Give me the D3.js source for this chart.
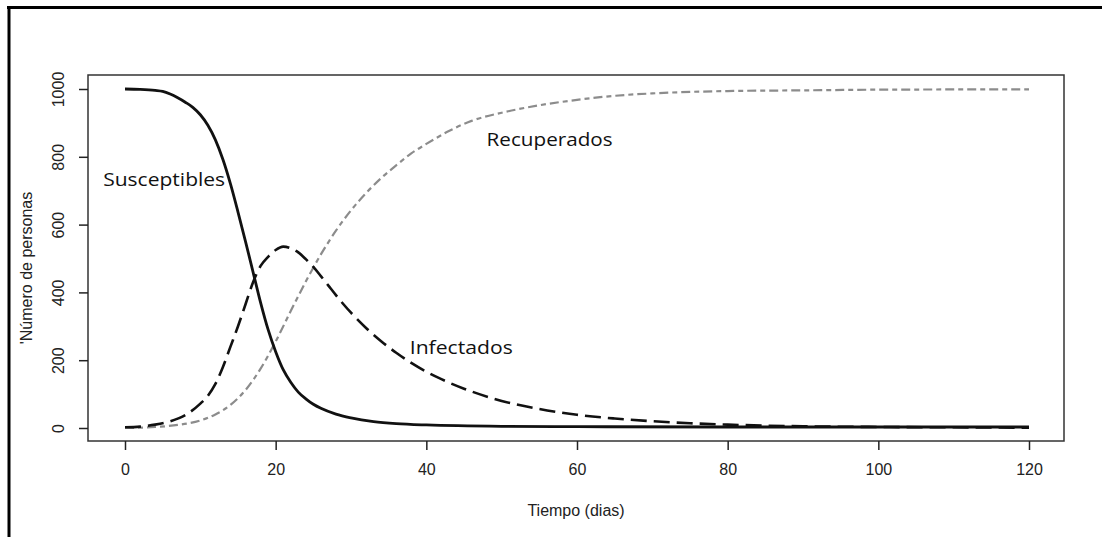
<!DOCTYPE html>
<html>
<head>
<meta charset="utf-8">
<script src="https://cdn.jsdelivr.net/npm/d3@7/dist/d3.min.js"></script>
<style>
  html, body { margin: 0; padding: 0; background: #fff; }
  svg { display: block; }
</style>
</head>
<body>
<svg id="chart" width="1102" height="537"></svg>
<script>
// ---- data ----
const susTimes   = [0, 2, 4, 5, 6, 7, 8, 9, 10, 11, 12, 13, 14, 15, 16, 17, 18, 19, 20, 21, 22, 23, 24, 25, 26, 28, 30, 33, 36, 40, 50, 60, 80, 120];
const susValues  = [1000, 999, 996, 993, 985, 974, 961, 946, 924, 893, 850, 792, 720, 637, 550, 460, 370, 290, 225, 172, 135, 106, 86, 70, 58, 41, 30, 19, 13, 9, 5, 4, 3, 3];

const infTimes   = [0, 2, 4, 6, 8, 10, 11, 12, 13, 14, 15, 16, 17, 18, 19, 20, 21, 22, 23, 24, 25, 26, 27, 28, 29, 30, 32, 34, 36, 38, 40, 42, 45, 50, 55, 60, 65, 70, 75, 80, 85, 90, 100, 110, 120];
const infValues  = [2, 4, 10, 20, 38, 72, 95, 130, 180, 240, 300, 365, 430, 478, 505, 525, 535, 530, 518, 498, 475, 448, 420, 392, 365, 340, 295, 256, 222, 192, 166, 144, 116, 80, 56, 39, 28, 20, 14, 10, 7, 5, 3, 2, 1];

const recTimes   = [0, 4, 7, 10, 12, 14, 16, 18, 20, 22, 24, 26, 28, 30, 32, 34, 36, 38, 40, 43, 46, 50, 55, 60, 65, 70, 80, 90, 100, 120];
const recValues  = [0, 3, 9, 22, 40, 68, 112, 175, 255, 345, 432, 512, 582, 642, 693, 737, 775, 810, 838, 876, 906, 930, 952, 968, 980, 987, 994, 996, 998, 999];

const xTicks = [0, 20, 40, 60, 80, 100, 120];
const yTicks = [0, 200, 400, 600, 800, 1000];

const labels = [
  { text: "Susceptibles", t: -2.9, v: 715, len: 122 },
  { text: "Recuperados",  t: 48.0, v: 833, len: 126 },
  { text: "Infectados",   t: 37.8, v: 219, len: 103 }
];

const xTitle = "Tiempo (dias)";
const yTitle = "'Número de personas";

// ---- layout ----
const svg = d3.select("#chart");
const box = { left: 88, right: 1064, top: 75, bottom: 441 };

const x = d3.scaleLinear().domain([0, 120]).range([125, 1029]);
const y = d3.scaleLinear().domain([0, 1000]).range([428, 89]);

// outer frame (top and left edges visible)
svg.append("line").attr("x1", 7).attr("x2", 1102).attr("y1", 7.5).attr("y2", 7.5)
  .attr("stroke", "#000").attr("stroke-width", 3);
svg.append("line").attr("x1", 9).attr("x2", 9).attr("y1", 6).attr("y2", 537)
  .attr("stroke", "#000").attr("stroke-width", 3);

// plot box
svg.append("rect")
  .attr("x", box.left).attr("y", box.top)
  .attr("width", box.right - box.left).attr("height", box.bottom - box.top)
  .attr("fill", "none").attr("stroke", "#333").attr("stroke-width", 1.5);

const tickFont = "'Liberation Sans', Arial, sans-serif";

// x axis
const xAxis = d3.axisBottom(x).tickValues(xTicks).tickFormat(d3.format("d"))
  .tickSize(9).tickSizeOuter(0).tickPadding(14);
const gx = svg.append("g").attr("transform", `translate(0,${box.bottom})`).call(xAxis);
gx.select(".domain").remove();
gx.selectAll(".tick line").attr("stroke", "#222").attr("stroke-width", 1.5);
gx.selectAll(".tick text").attr("font-family", tickFont).attr("font-size", 16).attr("fill", "#222");

// y axis
const yAxis = d3.axisLeft(y).tickValues(yTicks).tickFormat(d3.format("d"))
  .tickSize(9).tickSizeOuter(0).tickPadding(0);
const gy = svg.append("g").attr("transform", `translate(${box.left},0)`).call(yAxis);
gy.select(".domain").remove();
gy.selectAll(".tick line").attr("stroke", "#222").attr("stroke-width", 1.5);
gy.selectAll(".tick text")
  .attr("font-family", tickFont).attr("font-size", 16).attr("fill", "#222")
  .attr("x", null).attr("dy", null)
  .attr("text-anchor", "middle")
  .attr("transform", "translate(-30,0) rotate(-90)")
  .attr("y", 0).attr("dy", "0.35em");

// axis titles
svg.append("text").attr("x", (box.left + box.right) / 2).attr("y", 516)
  .attr("text-anchor", "middle").attr("font-family", tickFont).attr("font-size", 16)
  .attr("fill", "#222").text(xTitle);
svg.append("text")
  .attr("transform", `translate(32,${(box.top + box.bottom) / 2 + 10}) rotate(-90)`)
  .attr("text-anchor", "middle").attr("font-family", tickFont).attr("font-size", 16)
  .attr("fill", "#222").text(yTitle);

// lines
const mk = (times, vals) => times.map((t, i) => [t, vals[i]]);
const line = d3.line().x(d => x(d[0])).y(d => y(d[1])).curve(d3.curveMonotoneX);

svg.append("path").datum(mk(recTimes, recValues)).attr("d", line)
  .attr("fill", "none").attr("stroke", "#8c8c8c").attr("stroke-width", 2.2)
  .attr("stroke-dasharray", "9,4,5,4");
svg.append("path").datum(mk(infTimes, infValues)).attr("d", line)
  .attr("fill", "none").attr("stroke", "#111").attr("stroke-width", 2.6)
  .attr("stroke-dasharray", "16,7");
svg.append("path").datum(mk(susTimes, susValues)).attr("d", line)
  .attr("fill", "none").attr("stroke", "#111").attr("stroke-width", 2.8);

// curve labels
svg.selectAll("text.lbl").data(labels).enter().append("text")
  .attr("class", "lbl")
  .attr("x", d => x(d.t)).attr("y", d => y(d.v))
  .attr("font-family", "'Open Sans', sans-serif").attr("font-size", 19)
  .attr("textLength", d => d.len).attr("lengthAdjust", "spacingAndGlyphs")
  .attr("fill", "#111").text(d => d.text);
</script>
</body>
</html>
